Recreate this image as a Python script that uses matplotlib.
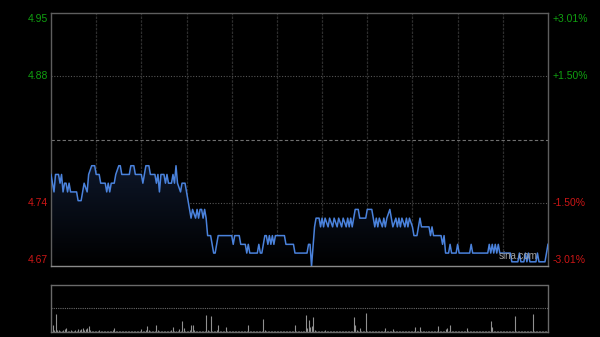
import numpy as np
import matplotlib.pyplot as plt
from matplotlib.patches import PathPatch
from matplotlib.colors import LinearSegmentedColormap
from matplotlib.transforms import blended_transform_factory

plt.rcParams['font.family'] = ['Liberation Sans', 'DejaVu Sans']

# 昨收 / 涨跌幅范围
prev_close = 4.81
pct_max = 0.0301

# 分时价格 (分钟, 价格) 折点
t_min = [0, 2, 3, 5, 6, 7, 8, 9, 10, 11, 12, 13, 17, 18, 20, 21, 22, 24, 25, 27,
         29, 30, 32, 33, 36, 37, 38, 39, 40, 42, 43, 45, 46, 47, 52, 53, 55, 56, 60, 61,
         62, 63, 65, 66, 69, 70, 71, 72, 73, 75, 76, 77, 78, 80, 81, 82, 83, 84, 86, 87,
         89, 90, 91, 93, 94, 96, 97, 98, 99, 100, 101, 102, 103, 104, 106, 107, 108, 109, 110, 111,
         120, 121, 122, 125, 126, 129, 130, 131, 132, 137, 138, 139, 140, 142, 143, 144, 145, 146, 147, 148,
         149, 155, 156, 161, 162, 170, 171, 172, 173, 175, 176, 178, 179, 180, 181, 182, 184, 185, 187, 188,
         190, 191, 193, 194, 196, 197, 198, 199, 200, 202, 204, 205, 209, 210, 213, 214, 215, 216, 217, 218,
         220, 221, 222, 223, 225, 226, 227, 229, 230, 231, 232, 233, 235, 236, 237, 238, 240, 241, 243, 245,
         246, 251, 252, 253, 254, 259, 260, 261, 262, 264, 265, 266, 269, 270, 271, 278, 279, 280, 290, 291,
         292, 293, 294, 295, 296, 297, 298, 305, 306, 310, 311, 312, 314, 315, 316, 317, 318, 322, 323, 324,
         328, 330]
price = [4.77, 4.75, 4.77, 4.77, 4.76, 4.77, 4.75, 4.76, 4.76, 4.75, 4.76, 4.75, 4.75, 4.74, 4.74, 4.75, 4.76, 4.75, 4.77, 4.78,
         4.78, 4.77, 4.77, 4.76, 4.76, 4.75, 4.76, 4.75, 4.76, 4.76, 4.77, 4.78, 4.78, 4.77, 4.77, 4.78, 4.78, 4.77, 4.77, 4.76,
         4.77, 4.78, 4.78, 4.77, 4.77, 4.76, 4.77, 4.75, 4.77, 4.77, 4.76, 4.77, 4.76, 4.76, 4.77, 4.76, 4.78, 4.76, 4.75, 4.76,
         4.76, 4.75, 4.74, 4.72, 4.73, 4.72, 4.73, 4.72, 4.73, 4.73, 4.72, 4.73, 4.72, 4.70, 4.70, 4.69, 4.68, 4.68, 4.69, 4.70,
         4.70, 4.69, 4.70, 4.70, 4.69, 4.69, 4.68, 4.69, 4.68, 4.68, 4.69, 4.68, 4.68, 4.70, 4.70, 4.69, 4.70, 4.69, 4.70, 4.69,
         4.70, 4.70, 4.69, 4.69, 4.68, 4.68, 4.69, 4.69, 4.665, 4.71, 4.72, 4.72, 4.71, 4.72, 4.71, 4.72, 4.71, 4.72, 4.71, 4.72,
         4.71, 4.72, 4.71, 4.72, 4.71, 4.72, 4.71, 4.72, 4.71, 4.73, 4.73, 4.72, 4.72, 4.73, 4.73, 4.72, 4.71, 4.72, 4.71, 4.72,
         4.71, 4.72, 4.71, 4.72, 4.73, 4.72, 4.71, 4.72, 4.71, 4.72, 4.71, 4.72, 4.71, 4.72, 4.71, 4.72, 4.71, 4.70, 4.70, 4.72,
         4.71, 4.71, 4.70, 4.71, 4.70, 4.70, 4.69, 4.70, 4.68, 4.68, 4.69, 4.68, 4.68, 4.69, 4.68, 4.68, 4.69, 4.68, 4.68, 4.69,
         4.68, 4.69, 4.68, 4.69, 4.68, 4.69, 4.68, 4.68, 4.67, 4.67, 4.68, 4.67, 4.67, 4.68, 4.67, 4.68, 4.67, 4.67, 4.68, 4.67,
         4.67, 4.69]

# 每分钟成交量 (相对高度)
volume = [2, 7, 2, 18, 2, 2, 1, 1, 2, 3, 4, 1, 1, 2, 1, 1, 2, 1, 3, 2, 3, 4, 2, 3, 4, 6, 2, 1, 1, 1,
          1, 1, 2, 1, 1, 1, 1, 1, 1, 1, 1, 2, 4, 1, 1, 1, 1, 1, 1, 1, 1, 1, 1, 1, 1, 1, 1, 1, 1, 1,
          3, 1, 1, 2, 6, 2, 1, 1, 1, 1, 7, 2, 1, 1, 1, 1, 1, 1, 1, 1, 2, 5, 1, 1, 1, 3, 1, 11, 4, 1,
          1, 1, 2, 7, 7, 2, 1, 1, 1, 1, 1, 1, 1, 17, 2, 1, 16, 1, 1, 1, 2, 7, 1, 1, 1, 1, 5, 1, 1, 1,
          1, 1, 1, 1, 1, 1, 1, 1, 1, 1, 1, 7, 1, 1, 1, 1, 1, 1, 1, 1, 1, 13, 2, 1, 1, 1, 1, 1, 1, 1,
          1, 1, 1, 1, 1, 1, 1, 1, 1, 1, 1, 1, 7, 1, 1, 1, 1, 1, 1, 17, 4, 12, 5, 6, 15, 2, 1, 1, 1, 1,
          1, 1, 2, 1, 1, 1, 1, 1, 1, 1, 1, 1, 1, 1, 1, 1, 1, 1, 1, 1, 1, 15, 7, 2, 1, 4, 1, 1, 1, 19,
          1, 1, 1, 1, 1, 1, 1, 1, 1, 1, 1, 1, 4, 1, 1, 1, 1, 3, 1, 1, 1, 1, 1, 1, 1, 1, 1, 1, 1, 1,
          1, 1, 5, 1, 1, 5, 1, 1, 1, 1, 1, 1, 1, 1, 1, 1, 1, 6, 1, 1, 1, 1, 3, 4, 1, 7, 1, 1, 1, 1,
          1, 1, 1, 1, 1, 1, 4, 1, 1, 1, 1, 1, 1, 1, 1, 1, 1, 1, 1, 1, 1, 1, 11, 5, 1, 1, 1, 1, 1, 1,
          1, 1, 1, 1, 1, 1, 1, 1, 16, 1, 1, 1, 1, 1, 1, 1, 1, 1, 1, 1, 18, 1, 1, 1, 1, 1, 1, 1, 1, 1,
          1]

left_labels = ['4.95', '4.88', '4.74', '4.67']
right_labels = ['+3.01%', '+1.50%', '-1.50%', '-3.01%']
label_pcts = [pct_max, 0.015, -0.015, -pct_max]

green = '#10a010'
red = '#cc1616'

lo = prev_close * (1 - pct_max)
hi = prev_close * (1 + pct_max)
n_min = 330

fig = plt.figure(figsize=(6, 3.37), dpi=100, facecolor='black')
ax = fig.add_axes([0.085, 0.2107, 0.8283, 0.7507], facecolor='black')
ax.set_xlim(0, n_min)
ax.set_ylim(lo, hi)
ax.set_xticks([])
ax.set_yticks([])

# 网格
for m in range(30, n_min, 30):
    ax.axvline(m, color='#2e2e2e', lw=0.9, ls=(0, (2, 1)), zorder=1)
for p in (0.015, -0.015):
    ax.axhline(prev_close * (1 + p), color='#555555', lw=0.8, ls=(0, (1, 1.5)), zorder=1)
ax.axhline(prev_close, color='#707070', lw=0.8, ls=(0, (3, 2)), zorder=1)

for s in ax.spines.values():
    s.set_color('#5e5e5e')
    s.set_linewidth(1)
ax.spines['bottom'].set_color('#8a8a8a')

# 渐变填充
fill = ax.fill_between(t_min, price, lo, color='none', lw=0)
clip = PathPatch(fill.get_paths()[0], transform=ax.transData, facecolor='none', edgecolor='none')
ax.add_patch(clip)
cmap = LinearSegmentedColormap.from_list('fade', ['#000000', '#0d1628'])
grad = np.linspace(0, 1, 256).reshape(-1, 1)
im = ax.imshow(grad, cmap=cmap, aspect='auto', origin='lower',
               extent=[0, n_min, lo, max(price)], zorder=2)
im.set_clip_path(clip)

ax.plot(t_min, price, color='#4a82dc', lw=1.1, zorder=3)

# 坐标标签
tr = blended_transform_factory(ax.transAxes, ax.transData)
px = (hi - lo) / 253.0
for i, (lt, rt, p) in enumerate(zip(left_labels, right_labels, label_pcts)):
    y = prev_close * (1 + p)
    if i == 0:
        y -= 6 * px
    elif i == 3:
        y += 6 * px
    c = green if p > 0 else red
    ax.text(-0.006, y, lt, transform=tr, ha='right', va='center', color=c, fontsize=7.5)
    ax.text(1.01, y, rt, transform=tr, ha='left', va='center', color=c, fontsize=7.5)

ax.text(0.94, 0.02, 'sina.com', transform=ax.transAxes, ha='center', va='bottom',
        color='#a0a0a0', fontsize=7, zorder=4)

# 成交量
vax = fig.add_axes([0.085, 0.01484, 0.8283, 0.1395], facecolor='black')
vax.set_xlim(0, n_min)
vax.set_ylim(0, 47)
vax.set_xticks([])
vax.set_yticks([])
vax.vlines(range(len(volume)), 0, volume, color='#909090', lw=0.8)
vax.axhline(23.5, color='#6a6a6a', lw=0.8, ls=(0, (1, 1)))
for s in vax.spines.values():
    s.set_color('#6a6a6a')
    s.set_linewidth(1)
vax.spines['top'].set_linestyle((0, (1, 1)))

fig.savefig('out.png', dpi=100, facecolor='black')
